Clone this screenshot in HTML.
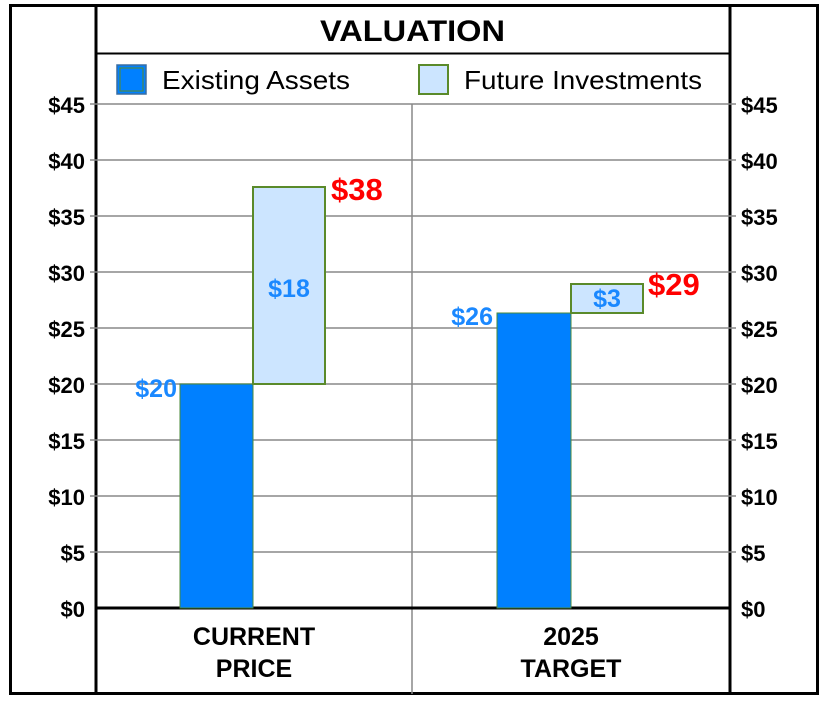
<!DOCTYPE html>
<html><head><style>body{margin:0;background:#fff}svg{display:block}</style></head><body>
<svg width="824" height="704" xmlns="http://www.w3.org/2000/svg" font-family="Liberation Sans, Arial, sans-serif">
<rect x="0" y="0" width="824" height="704" fill="#fff"/>
<rect x="10.5" y="5.5" width="807" height="688" fill="none" stroke="#000" stroke-width="3"/>
<line x1="96" y1="5" x2="96" y2="694" stroke="#000" stroke-width="3"/>
<line x1="730" y1="5" x2="730" y2="694" stroke="#000" stroke-width="3"/>
<line x1="96" y1="53.5" x2="730" y2="53.5" stroke="#000" stroke-width="2"/>
<text x="320" y="41" font-size="30" font-weight="bold" textLength="185" lengthAdjust="spacingAndGlyphs">VALUATION</text>
<rect x="117" y="65" width="29" height="29" fill="#0080ff" stroke="#3a6ea0" stroke-width="1.5"/>
<rect x="120" y="68" width="23" height="23" fill="none" stroke="#5a8a2a" stroke-width="1"/>
<text x="162" y="89" font-size="26" textLength="188" lengthAdjust="spacingAndGlyphs">Existing Assets</text>
<rect x="419" y="65" width="29" height="29" fill="#cce5ff" stroke="#5a8a2a" stroke-width="2"/>
<text x="464" y="89" font-size="26" textLength="238" lengthAdjust="spacingAndGlyphs">Future Investments</text>
<g stroke="#888" stroke-width="1.5">
<line x1="90" y1="104" x2="736" y2="104"/><line x1="90" y1="160" x2="736" y2="160"/>
<line x1="90" y1="216" x2="736" y2="216"/><line x1="90" y1="272" x2="736" y2="272"/>
<line x1="90" y1="328" x2="736" y2="328"/><line x1="90" y1="384" x2="736" y2="384"/>
<line x1="90" y1="440" x2="736" y2="440"/><line x1="90" y1="496" x2="736" y2="496"/>
<line x1="90" y1="552" x2="736" y2="552"/>
<line x1="412" y1="104" x2="412" y2="694"/>
</g>
<line x1="96" y1="608" x2="730" y2="608" stroke="#000" stroke-width="3"/>
<g font-size="22" font-weight="bold" text-anchor="end">
<text x="85" y="113">$45</text><text x="85" y="169">$40</text><text x="85" y="225">$35</text>
<text x="85" y="281">$30</text><text x="85" y="337">$25</text><text x="85" y="393">$20</text>
<text x="85" y="449">$15</text><text x="85" y="505">$10</text><text x="85" y="561">$5</text><text x="85" y="617">$0</text>
</g>
<g font-size="22" font-weight="bold">
<text x="741" y="113">$45</text><text x="741" y="169">$40</text><text x="741" y="225">$35</text>
<text x="741" y="281">$30</text><text x="741" y="337">$25</text><text x="741" y="393">$20</text>
<text x="741" y="449">$15</text><text x="741" y="505">$10</text><text x="741" y="561">$5</text><text x="741" y="617">$0</text>
</g>
<rect x="180" y="384" width="73" height="224" fill="#0080ff" stroke="#4a8a3a" stroke-width="1"/>
<rect x="253" y="187" width="72" height="197" fill="#cce5ff" stroke="#5a8a2a" stroke-width="2"/>
<rect x="497" y="313" width="74" height="295" fill="#0080ff" stroke="#4a8a3a" stroke-width="1"/>
<rect x="571" y="284" width="72" height="29" fill="#cce5ff" stroke="#5a8a2a" stroke-width="2"/>
<g font-weight="bold">
<text x="289" y="297" text-anchor="middle" font-size="25" fill="#1a88ff">$18</text>
<text x="177" y="397" text-anchor="end" font-size="25" fill="#1a88ff">$20</text>
<text x="493" y="325" text-anchor="end" font-size="25" fill="#1a88ff">$26</text>
<text x="607" y="307" text-anchor="middle" font-size="25" fill="#1a88ff">$3</text>
<text x="331" y="200" font-size="31" fill="#ff0000">$38</text>
<text x="648" y="295" font-size="31" fill="#ff0000">$29</text>
</g>
<g font-size="25" font-weight="bold" text-anchor="middle">
<text x="254" y="645">CURRENT</text><text x="254" y="677">PRICE</text>
<text x="571" y="645">2025</text><text x="571" y="677">TARGET</text>
</g>
</svg>
</body></html>
